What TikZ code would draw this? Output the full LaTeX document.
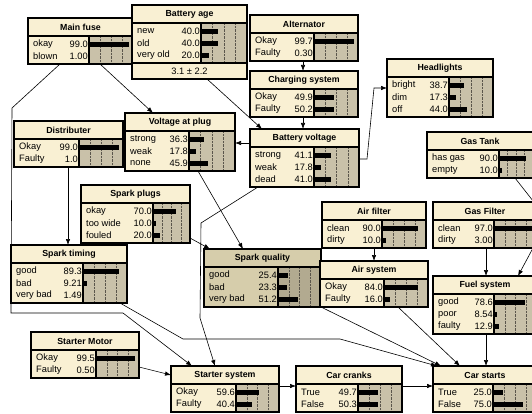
\documentclass[tikz,border=0pt]{standalone}
\usepackage{fontspec}
\setmainfont{Liberation Sans}
\usepackage{tikz}
\usetikzlibrary{arrows.meta, positioning, calc, backgrounds}
\definecolor{nodecream}{RGB}{249, 240, 211}
\definecolor{bartan}{RGB}{201, 193, 169}
\definecolor{selcream}{RGB}{214, 205, 171}
\definecolor{seltan}{RGB}{178, 170, 144}
\definecolor{gridgray}{RGB}{90, 85, 75}

\tikzset{
  titlefill/.style={fill=nodecream},
  bodyfill/.style={fill=nodecream},
  barfill/.style={fill=bartan},
  selected/.style={titlefill/.style={fill=selcream}, bodyfill/.style={fill=selcream}, barfill/.style={fill=seltan}},
  netframe/.style={draw, line width=1.1pt, rectangle, inner sep=0pt, outer sep=0pt, anchor=north west},
  titletext/.style={font=\fontsize{8.8}{10}\selectfont\bfseries, inner sep=0pt},
  statelabel/.style={font=\fontsize{9.3}{10}\selectfont, inner sep=0pt, anchor=west},
  statevalue/.style={font=\fontsize{9.3}{10}\selectfont, inner sep=0pt, anchor=east},
  footertext/.style={font=\fontsize{9.3}{10}\selectfont, inner sep=0pt},
  gridline/.style={densely dotted, gridgray, line width=0.4pt},
  link/.style={-{Latex[length=6pt,width=4.5pt]}, line width=0.6pt},
}

% [style]{name}{x,y}{width}{split}{rows}{title}{states}{footer}
\newcommand{\netnode}[9][]{%
  \def\nfoot{0}\if\relax\detokenize{#9}\relax\else\def\nfoot{16}\fi
  \pgfmathsetmacro{\nbody}{12*#6+4}%
  \pgfmathsetmacro{\nh}{18+\nbody+\nfoot}%
  \begin{scope}[shift={(#3)}, #1]
    \fill[titlefill] (0,0) rectangle (#4,18);
    \fill[bodyfill] (0,18) rectangle (#5,18+\nbody);
    \fill[barfill] (#5,18) rectangle (#4,18+\nbody);
    \foreach \k in {1,2,3}
      \draw[gridline] ({#5+\k*(#4-#5)/4},18) -- ++(0,\nbody);
    \foreach \lab/\val/\pct [count=\i] in {#8} {
      \node[statelabel] at (5,{26.5+12*(\i-1)}) {\lab};
      \node[statevalue] at (#5-1,{26.5+12*(\i-1)}) {\val};
      \fill ({#5},{24+12*(\i-1)}) rectangle ++({\pct/100*(#4-#5-4)},5);
    }
    \node[titletext] at ({#4/2},9.5) {#7};
    \if\relax\detokenize{#9}\relax\else
      \fill[bodyfill] (0,18+\nbody) rectangle (#4,\nh);
      \draw[line width=1.1pt] (0,18+\nbody) -- (#4,18+\nbody);
      \node[footertext] at ({#4/2},{18+\nbody+8}) {#9};
    \fi
    \draw[line width=1.1pt] (0,18) -- (#4,18) (#5,18) -- (#5,18+\nbody);
    \node[netframe, minimum width=#4pt, minimum height=\nh pt] (#2) at (0,0) {};
  \end{scope}
}

\begin{document}
\begin{tikzpicture}[x=1pt, y=-1pt]
  \useasboundingbox (0,0) rectangle (532,414);

  \netnode{mainfuse}{28,18}{105}{61}{2}{Main fuse}{okay/99.0/99.0, blown/1.00/1.00}{}
  \netnode{batteryage}{132,5}{115}{69}{3}{Battery age}{new/40.0/40.0, old/40.0/40.0, very old/20.0/20.0}{3.1 ± 2.2}
  \netnode{alternator}{250,15}{108}{64}{2}{Alternator}{Okay/99.7/99.7, Faulty/0.30/0.30}{}
  \netnode{charging}{250,71}{108}{64}{2}{Charging system}{Okay/49.9/49.9, Faulty/50.2/50.2}{}
  \netnode{headlights}{387,59}{106}{62}{3}{Headlights}{bright/38.7/38.7, dim/17.3/17.3, off/44.0/44.0}{}
  \netnode{distributer}{14,121}{109}{65}{2}{Distributer}{Okay/99.0/99.0, Faulty/1.0/1.0}{}
  \netnode{voltageplug}{125,113}{110}{64}{3}{Voltage at plug}{strong/36.3/36.3, weak/17.8/17.8, none/45.9/45.9}{}
  \netnode{batteryvoltage}{250,129}{109}{64}{3}{Battery voltage}{strong/41.1/41.1, weak/17.8/17.8, dead/41.0/41.0}{}
  \netnode{gastank}{427,132}{106}{72}{2}{Gas Tank}{has gas/90.0/90.0, empty/10.0/10.0}{}
  \netnode{sparkplugs}{81,185}{109}{72}{3}{Spark plugs}{okay/70.0/70.0, too wide/10.0/10.0, fouled/20.0/20.0}{}
  \netnode{airfilter}{322,202}{104}{60}{2}{Air filter}{clean/90.0/90.0, dirty/10.0/10.0}{}
  \netnode{gasfilter}{433,202}{104}{61}{2}{Gas Filter}{clean/97.0/97.0, dirty/3.00/3.00}{}
  \netnode{sparktiming}{11,245}{116}{72}{3}{Spark timing}{good/89.3/89.3, bad/9.21/9.21, very bad/1.49/1.49}{}
  \netnode[selected]{sparkquality}{204,249}{117}{74}{3}{Spark quality}{good/25.4/25.4, bad/23.3/23.3, very bad/51.2/51.2}{}
  \netnode{airsystem}{320,261}{108}{64}{2}{Air system}{Okay/84.0/84.0, Faulty/16.0/16.0}{}
  \netnode{fuelsystem}{433,276}{104}{61}{3}{Fuel system}{good/78.6/78.6, poor/8.54/8.54, faulty/12.9/12.9}{}
  \netnode{startermotor}{31,332}{108}{65}{2}{Starter Motor}{Okay/99.5/99.5, Faulty/0.50/0.50}{}
  \netnode{startersystem}{171,366}{108}{65}{2}{Starter system}{Okay/59.6/59.6, Faulty/40.4/40.4}{}
  \netnode{carcranks}{296,366}{106}{62}{2}{Car cranks}{True/49.7/49.7, False/50.3/50.3}{}
  \netnode{carstarts}{433,366}{104}{60}{2}{Car starts}{True/25.0/25.0, False/75.0/75.0}{}

  % links
  \begin{scope}[on background layer]
    \draw[link] ([xshift=72pt]mainfuse.south west) -- ([xshift=28pt]voltageplug.north west);
    \draw[link] ([xshift=32pt]mainfuse.south west) -- (12,108) -- (11,313) -- (123,313) -- ([xshift=21pt]startersystem.north west);
    \draw[link] ([xshift=75pt]batteryage.south west) -- ([xshift=12pt]batteryvoltage.north west);
    \draw[link] ([xshift=53pt]alternator.south west) -- ([xshift=53pt]charging.north west);
    \draw[link] ([xshift=53pt]charging.south west) -- ([xshift=53pt]batteryvoltage.north west);
    \draw[link] ([yshift=-30pt]batteryvoltage.north east) -- (367,159) -- (374,88) -- ([yshift=-29pt]headlights.north west);
    \draw[link] ([yshift=-14pt]batteryvoltage.north west) -- ([yshift=-30pt]voltageplug.north east);
    \draw[link] ([xshift=8pt]batteryvoltage.south west) -- (201,223) -- (200,318) -- ([xshift=44pt]startersystem.north west);
    \draw[link] ([xshift=54pt]distributer.south west) -- ([xshift=57pt]sparktiming.north west);
    \draw[link] ([xshift=73pt]voltageplug.south west) -- ([xshift=39pt]sparkquality.north west);
    \draw[link] ([yshift=5pt]sparkplugs.south east) -- ([xshift=6pt]sparkquality.north west);
    \draw[link] ([xshift=-7pt]sparktiming.south east) -- (183,339) -- (340,339) -- ([xshift=4pt]carstarts.north west);
    \draw[link] (sparkquality.south east) -- ([xshift=8pt]carstarts.north west);
    \draw[link] ([xshift=52pt]airfilter.south west) -- ([xshift=54pt]airsystem.north west);
    \draw[link] ([xshift=53pt]gasfilter.south west) -- ([xshift=53pt]fuelsystem.north west);
    \draw[link] ([xshift=88pt]gastank.south west) -- (548,220) -- ([xshift=85pt]fuelsystem.north west);
    \draw[link] ([xshift=78pt]airsystem.south west) -- ([xshift=27pt]carstarts.north west);
    \draw[link] ([xshift=53pt]fuelsystem.south west) -- ([xshift=53pt]carstarts.north west);
    \draw[link] ([yshift=-20pt]startersystem.north east) -- ([yshift=-20pt]carcranks.north west);
    \draw[link] ([yshift=-20pt]carcranks.north east) -- ([yshift=-20pt]carstarts.north west);
    \draw[link] ([yshift=-35pt]startermotor.north east) -- ([yshift=-9pt]startersystem.north west);
  \end{scope}
\end{tikzpicture}
\end{document}
